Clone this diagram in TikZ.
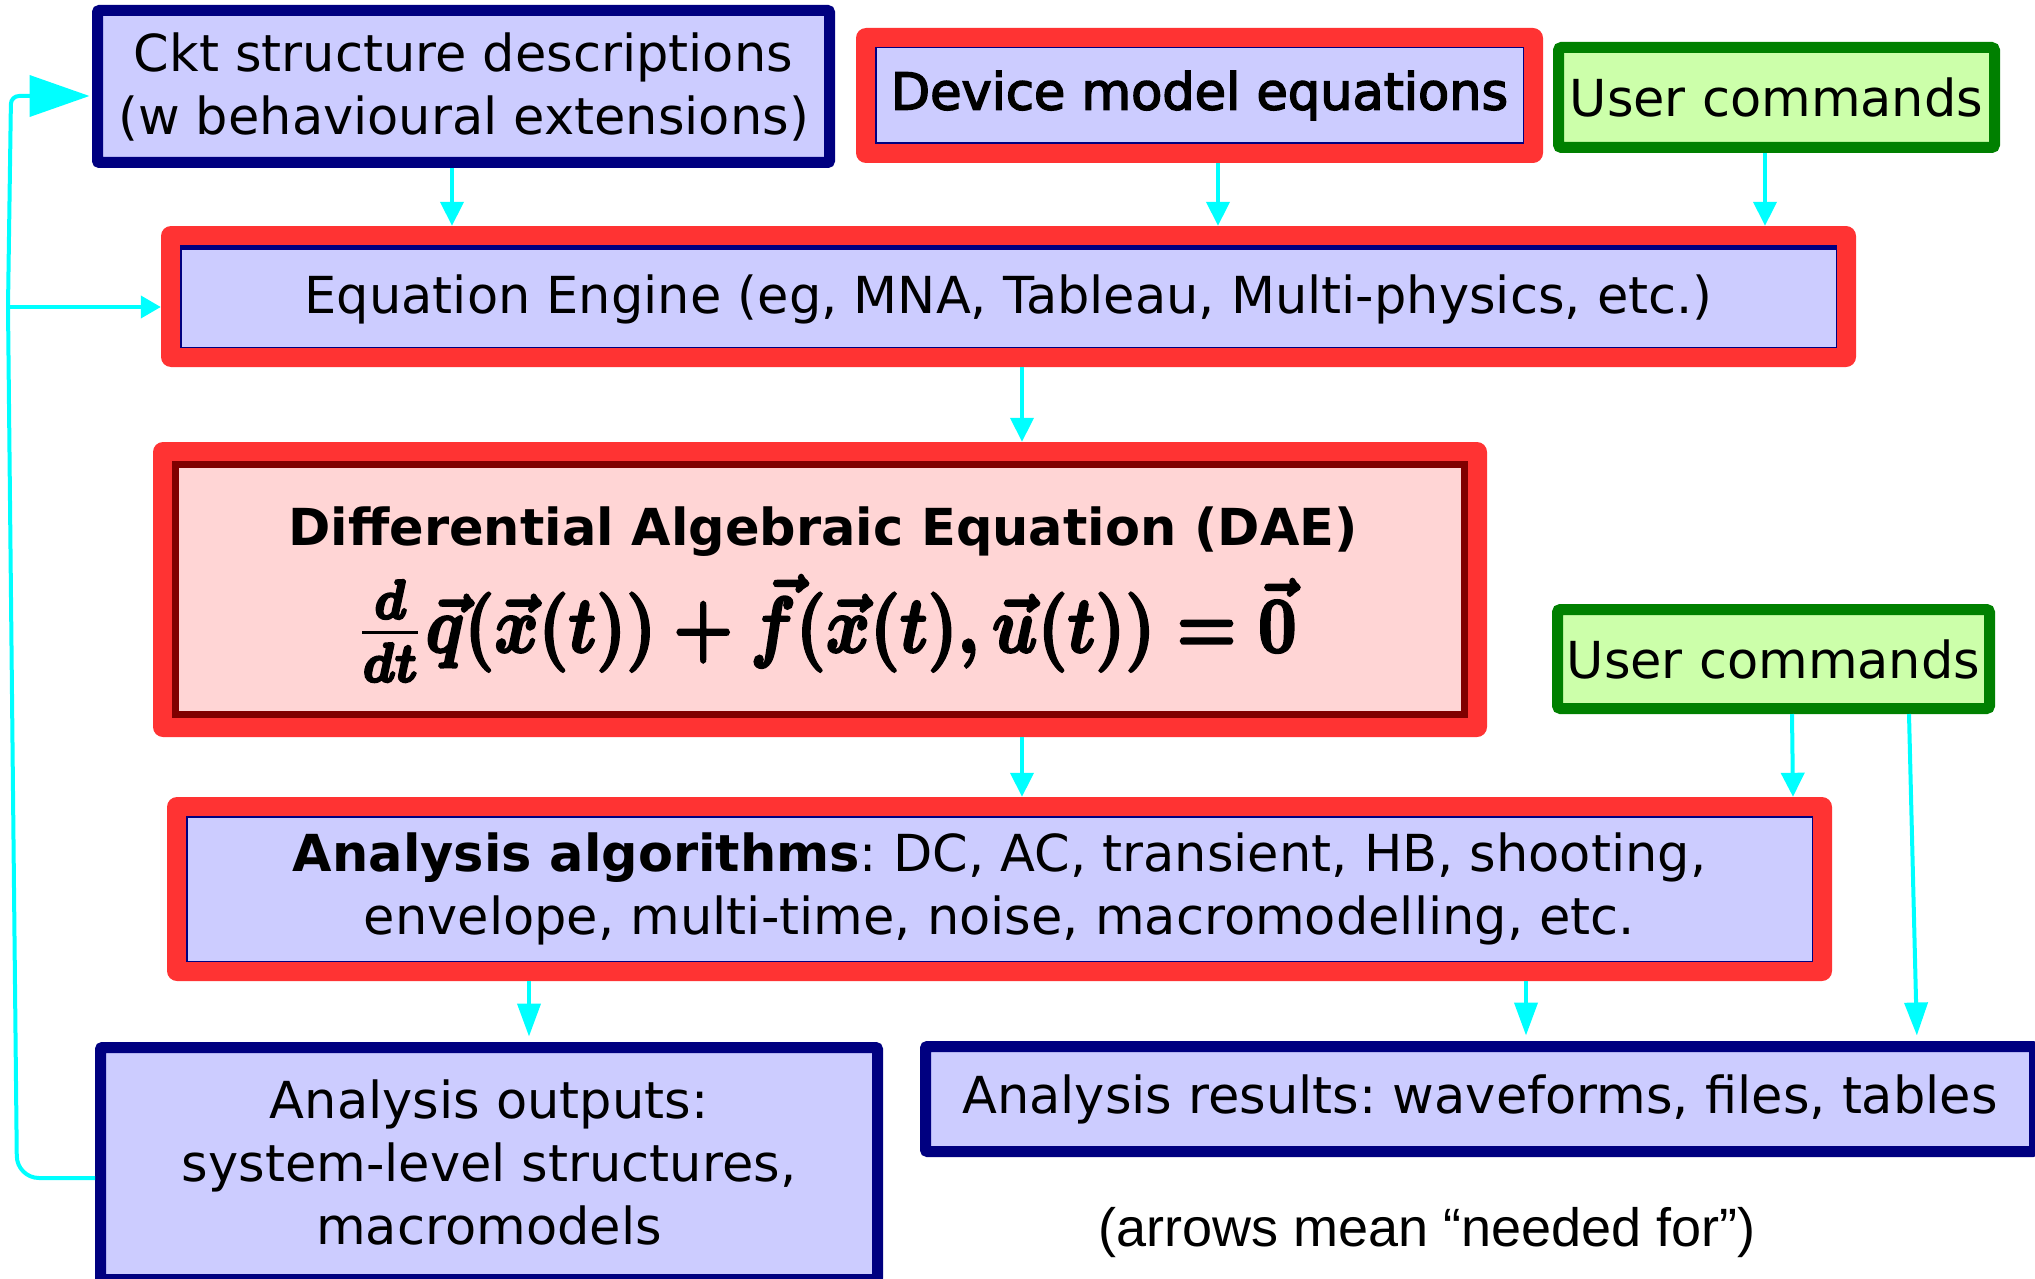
\documentclass[tikz,border=0pt]{standalone}
\usepackage{amsmath}
\usepackage{graphicx}
\usepackage[no-math]{fontspec}
\setmainfont{DejaVu Sans}
\newfontface\embold{DejaVu Sans}[FakeBold=3]
\newfontfamily\notefont{Liberation Sans}
\usetikzlibrary{arrows.meta}
\frenchspacing

\definecolor{boxblue}{HTML}{CCCCFF}
\definecolor{navyc}{HTML}{000080}
\definecolor{boxred}{HTML}{FF3333}
\definecolor{darkredc}{HTML}{800000}
\definecolor{pinkfill}{HTML}{FFD5D5}
\definecolor{greenc}{HTML}{008000}
\definecolor{lightgreen}{HTML}{CCFFAA}
\definecolor{cyanc}{HTML}{00FFFF}

% the DAE written in bold math, set at 10pt, outlined a little heavier and enlarged
\newcommand{\daeformula}{\scalebox{6.7}[7.9]{\fontsize{10}{12}\selectfont
  \special{pdf:literal direct 2 Tr 0.32 w}%
  \boldmath$\frac{d}{dt}\vec{q}(\vec{x}(t))+\vec{f}(\vec{x}(t),\vec{u}(t))=\vec{0}$%
  \special{pdf:literal direct 0 Tr}}}

\begin{document}
\begin{tikzpicture}[x=1pt,y=-1pt,
  font=\fontsize{51}{63}\selectfont,
  navybox/.style={draw=navyc, line width=11pt, fill=boxblue, rounded corners=2pt,
    inner sep=0pt, align=center},
  greenbox/.style={draw=greenc, line width=11pt, fill=lightgreen, rounded corners=3pt,
    inner sep=0pt, align=center},
  redbox/.style={fill=boxred, rounded corners=10pt, inner sep=0pt, align=center,
    path picture={\draw[navyc, line width=1.5pt, fill=boxblue, sharp corners]
      ([shift={(19.75pt,-19.75pt)}]path picture bounding box.north west) rectangle
      ([shift={(-19.75pt,19.75pt)}]path picture bounding box.south east);}},
  daebox/.style={fill=boxred, rounded corners=10pt, inner sep=0pt,
    path picture={\draw[darkredc, line width=7pt, fill=pinkfill, sharp corners]
      ([shift={(22.5pt,-22.5pt)}]path picture bounding box.north west) rectangle
      ([shift={(-22.5pt,22.5pt)}]path picture bounding box.south east);}},
  conn/.style={draw=cyanc, line width=4pt, -{Triangle[length=24pt,width=23pt]}},
  connlong/.style={conn, -{Triangle[length=33pt,width=23pt]}},
]
\path[use as bounding box, clip] (0,0) rectangle (2035,1279);

% top row
\node[navybox, minimum width=732pt, minimum height=152pt] (ckt) at (463.5,86.5)
  {Ckt structure descriptions\\(w behavioural extensions)};
\node[redbox, minimum width=687pt, minimum height=135pt] (dev) at (1199.5,95.5)
  {\embold Device model equations};
\node[greenbox, minimum width=436pt, minimum height=100pt] (user1) at (1776.5,97.5)
  {User commands};

% equation engine
\node[redbox, minimum width=1695pt, minimum height=141pt, text height=45.5pt,
  text depth=12pt] (eng) at (1008.5,296.5)
  {Equation Engine (eg, MNA, Tableau, Multi-physics, etc.)};
\draw[navyc, line width=4.5pt] ([shift={(19pt,-21.5pt)}]eng.north west)
  -- ([shift={(-19pt,-21.5pt)}]eng.north east);

% DAE
\node[daebox, minimum width=1334pt, minimum height=295pt] (dae) at (820,589.5) {};
\node[anchor=base, font=\fontsize{51}{63}\selectfont\bfseries] (daetitle) at (823,545)
  {Differential Algebraic Equation (DAE)};
\node[anchor=base, inner sep=0pt] (daeeq) at (825.5,652) {\daeformula};

\node[greenbox, minimum width=432pt, minimum height=99pt] (user2) at (1773.5,659)
  {User commands};

% analysis
\node[redbox, minimum width=1665pt, minimum height=184pt] (alg) at (999.5,889)
  {\textbf{Analysis algorithms}: DC, AC, transient, HB, shooting,\\
   envelope, multi-time, noise, macromodelling, etc.};

\node[navybox, minimum width=777pt, minimum height=232pt, text height=55pt,
  text depth=145pt] (outs) at (489,1163.5)
  {\begin{tabular}[t]{@{}c@{}}Analysis outputs:\\system-level structures,\\macromodels\end{tabular}};
\node[navybox, minimum width=1109pt, minimum height=105pt] (res) at (1480,1099)
  {Analysis results: waveforms, files, tables};

\node[anchor=base, font=\fontsize{54}{64}\selectfont\notefont] (note) at (1427,1246)
  {(arrows mean “needed for”)};

% "needed for" connectors
\draw[conn] ([xshift=-11.5pt]ckt.south) -- ([xshift=-556.5pt]eng.north);
\draw[conn] ([xshift=18.5pt]dev.south) -- ([xshift=209.5pt]eng.north);
\draw[conn] ([xshift=-11.5pt]user1.south) -- ([xshift=756.5pt]eng.north);
\draw[conn] ([xshift=13.5pt]eng.south) -- ([xshift=202pt]dae.north);
\draw[conn] ([xshift=202pt]dae.south) -- ([xshift=22.5pt]alg.north);
\draw[conn] ([xshift=18.5pt]user2.south) -- ([xshift=793.5pt]alg.north);
\draw[connlong, shorten >=5.5pt] ([xshift=135.5pt]user2.south) -- ([xshift=437pt]res.north);
\draw[connlong, shorten >=5.5pt] ([xshift=-470.5pt]alg.south) -- ([xshift=40pt]outs.north);
\draw[connlong, shorten >=5.5pt] ([xshift=526.5pt]alg.south) -- ([xshift=46pt]res.north);

% feedback loop from the analysis outputs
\coordinate (junc) at (8,307);
\draw[draw=cyanc, line width=4pt, rounded corners=22pt]
  ([yshift=-14.5pt]outs.west) -- (17,1178) -- (junc);
\draw[draw=cyanc, line width=4pt, -{Triangle[length=20pt,width=22pt]}]
  (junc) -- ([yshift=-10.5pt]eng.west);
\draw[draw=cyanc, line width=4pt, rounded corners=8pt,
  -{Triangle[length=60pt,width=41pt]}, shorten >=2.5pt]
  (junc) -- (11,96) -- ([yshift=-9.5pt]ckt.west);
\end{tikzpicture}
\end{document}
